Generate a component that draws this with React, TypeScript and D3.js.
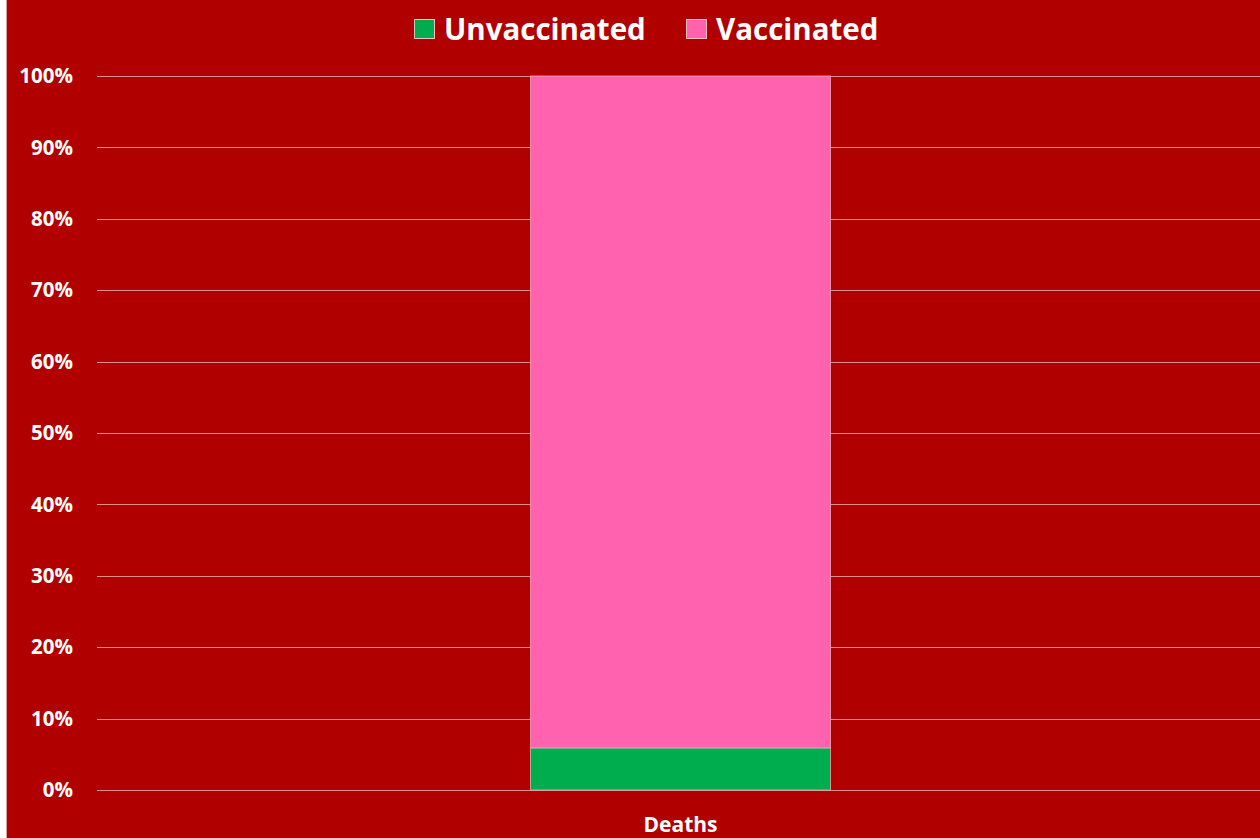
import * as d3 from "d3";

const categories = ["Deaths"];
const unvaccinated = [0.059];
const vaccinated = [0.941];
const seriesNames = ["Unvaccinated", "Vaccinated"];
const seriesColors = ["#00AD4E", "#FF63B0"];
const yTicks = [0, 0.1, 0.2, 0.3, 0.4, 0.5, 0.6, 0.7, 0.8, 0.9, 1];

const W = 1260;
const H = 838;
const BG = "#B00000";
const FONT = "'Open Sans', 'DejaVu Sans', sans-serif";

export default function App() {
  const x = d3.scaleBand().domain(categories).range([97, 1264]).paddingOuter(1.445).paddingInner(0);
  const y = d3.scaleLinear().domain([0, 1]).range([790, 76]);

  const rows = categories.map((c, i) => ({ cat: c, Unvaccinated: unvaccinated[i], Vaccinated: vaccinated[i] }));
  const stacked = d3.stack<any>().keys(seriesNames)(rows);

  // legend positions
  const legend = [
    { name: seriesNames[0], color: seriesColors[0], x: 414 },
    { name: seriesNames[1], color: seriesColors[1], x: 686 },
  ];

  return (
    <svg
      width={W}
      height={H}
      style={{ position: "absolute", left: 0, top: 0, display: "block" }}
      fontFamily={FONT}
    >
      <rect x={0} y={0} width={W} height={H} fill="#ffffff" />
      <rect x={6} y={0} width={W - 6} height={H} fill={BG} />
      <line x1={6.5} x2={6.5} y1={0} y2={H} stroke="#d8a0a0" strokeWidth={1} />

      {/* gridlines */}
      {yTicks.map((t) => (
        <line
          key={t}
          x1={97}
          x2={W}
          y1={Math.round(y(t)) + 0.5}
          y2={Math.round(y(t)) + 0.5}
          stroke="#ffffff"
          strokeOpacity={0.55}
          strokeWidth={1}
        />
      ))}

      {/* tick labels */}
      {yTicks.map((t) => (
        <text
          key={"l" + t}
          x={73}
          y={y(t)}
          dy="0.35em"
          textAnchor="end"
          fill="#ffffff"
          fontSize={20.5}
          fontWeight="bold"
        >
          {d3.format(".0%")(t)}
        </text>
      ))}

      {/* bars */}
      {stacked.map((s, si) =>
        s.map((d, i) => (
          <rect
            key={seriesNames[si] + i}
            x={x(categories[i])}
            y={y(d[1])}
            width={x.bandwidth()}
            height={y(d[0]) - y(d[1])}
            fill={seriesColors[si]}
            stroke="#f4b8c8"
            strokeOpacity={0.7}
            strokeWidth={1}
          />
        ))
      )}

      {/* category label */}
      {categories.map((c) => (
        <text
          key={c}
          x={(x(c) ?? 0) + x.bandwidth() / 2}
          y={825}
          dy="0.35em"
          textAnchor="middle"
          fill="#ffffff"
          fontSize={21}
          fontWeight="bold"
        >
          {c}
        </text>
      ))}

      {/* legend */}
      {legend.map((l) => (
        <g key={l.name} transform={`translate(${l.x},0)`}>
          <rect x={0.5} y={19.5} width={20} height={19} fill={l.color} stroke="#f0c0c0" strokeWidth={1} />
          <text x={30} y={29} dy="0.36em" fill="#ffffff" fontSize={29.5} fontWeight="bold">
            {l.name}
          </text>
        </g>
      ))}
    </svg>
  );
}
